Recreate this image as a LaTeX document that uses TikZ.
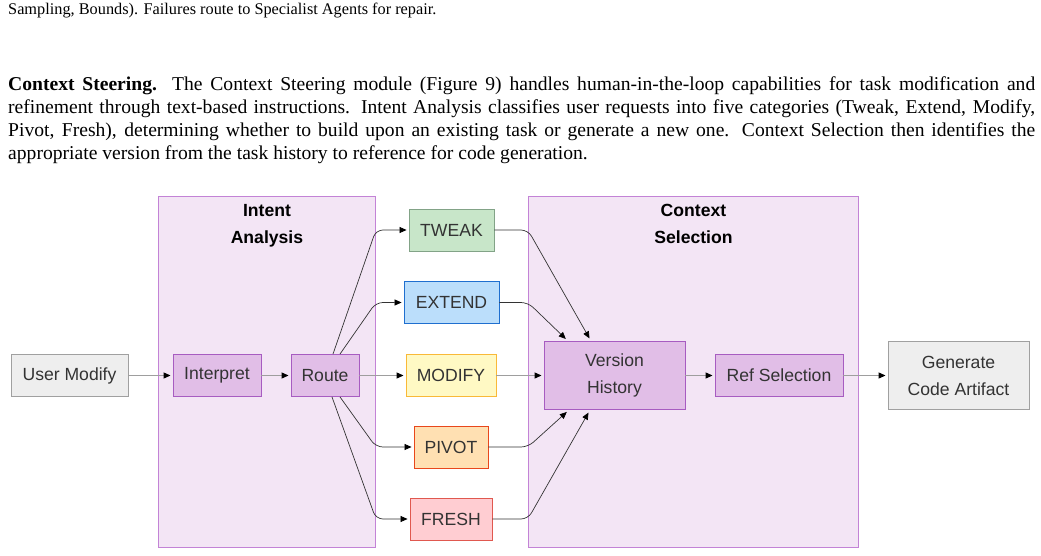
\documentclass[tikz,border=0pt]{standalone}
\usepackage{fontspec}
\setmainfont{Liberation Serif}
\setsansfont{Liberation Sans}
\usepackage{xcolor}
\usetikzlibrary{positioning,arrows.meta,calc}
\definecolor{grpbg}{HTML}{F3E5F5}
\definecolor{grpline}{HTML}{C383D6}
\definecolor{stagebg}{HTML}{E1BEE7}
\definecolor{stageline}{HTML}{A75CC1}
\definecolor{iobg}{HTML}{EEEEEE}
\definecolor{ioline}{HTML}{A0A0A0}
\definecolor{tweakbg}{HTML}{C8E6C9}
\definecolor{tweakline}{HTML}{82A387}
\definecolor{extendbg}{HTML}{BBDEFB}
\definecolor{extendline}{HTML}{1F6FCF}
\definecolor{modifybg}{HTML}{FFF9C4}
\definecolor{modifyline}{HTML}{F9B938}
\definecolor{pivotbg}{HTML}{FFE0B2}
\definecolor{pivotline}{HTML}{E8471C}
\definecolor{freshbg}{HTML}{FFCDD2}
\definecolor{freshline}{HTML}{E0584F}
\definecolor{txt}{HTML}{333333}
\definecolor{wire}{HTML}{9E9E9E}
\newcommand{\capfont}{\fontsize{16.3}{19.6}\selectfont}
\newcommand{\paperfont}{\fontsize{19.6}{23.3}\selectfont}
\newcommand{\boxfont}{\sffamily\fontsize{17.6}{27}\selectfont}
\tikzset{
  blk/.style={draw,line width=0.9pt,font=\boxfont,text=txt,align=center,inner sep=0pt,minimum height=42pt},
  io/.style={blk,fill=iobg,draw=ioline},
  stage/.style={blk,fill=stagebg,draw=stageline},
  kind/.style={blk,fill=#1bg,draw=#1line},
  grp/.style={draw=grpline,fill=grpbg,line width=0.9pt,inner sep=0pt,anchor=north west},
  grptitle/.style={font=\sffamily\bfseries\fontsize{17.6}{26.7}\selectfont,align=center,anchor=north,inner sep=0pt},
  para/.style={anchor=base west,inner sep=0pt,font=\paperfont},
  ar/.style={-{Triangle[length=7pt,width=6pt,color=black]},wire,line width=1.1pt,shorten >=2pt},
  fan/.style={-{Triangle[length=7pt,width=6pt,color=black]},txt,line width=0.7pt,rounded corners=7pt,shorten >=3pt},
}

\begin{document}
\begin{tikzpicture}[x=1pt,y=-1pt]
  \path[use as bounding box,fill=white] (0,0) rectangle (1041,556);

  % running text of the page
  \node[para,font=\capfont] (prevline) at (8,15) {Sampling, Bounds). Failures route to Specialist Agents for repair.};
  \node[para] (parai) at (8,91) {\makebox[1027pt][s]{\textbf{Context Steering.} The Context Steering module (Figure 9) handles human-in-the-loop capabilities for task modification and}};
  \node[para] (paraii) at (8,114) {\makebox[1027pt][s]{refinement through text-based instructions. Intent Analysis classifies user requests into five categories (Tweak, Extend, Modify,}};
  \node[para] (paraiii) at (8,137) {\makebox[1027pt][s]{Pivot, Fresh), determining whether to build upon an existing task or generate a new one. Context Selection then identifies the}};
  \node[para] (paraiv) at (8,160) {appropriate version from the task history to reference for code generation.};

  % groups
  \node[grp,minimum width=217pt,minimum height=351pt] (intent) at (158,196) {};
  \node[grptitle] (intenthead) at ([yshift=-8pt]intent.north) {Intent\\Analysis};
  \node[grp,minimum width=330pt,minimum height=351pt] (context) at (528,196) {};
  \node[grptitle] (contexthead) at ([yshift=-8pt]context.north) {Context\\Selection};

  % main row
  \node[io,minimum width=117pt] (usermod) at (69.5,375.5) {User Modify};
  \node[stage,minimum width=88pt] (interp) at (217,375.5) {Interpret};
  \node[stage,minimum width=68pt] (route) at (325,375.5) {Route};
  \node[stage,minimum width=141pt,minimum height=68pt] (history) at (614.5,375.5) {Version\\History};
  \node[stage,minimum width=128pt] (refsel) at (779,375.5) {Ref Selection};
  \node[io,minimum width=141pt,minimum height=68pt] (gencode) at (958.5,375.5) {Generate\\Code Artifact};

  % intent kinds
  \node[kind=tweak,minimum width=85pt] (tweak) at (451.5,230) {TWEAK};
  \node[kind=extend,minimum width=95pt] (extend) at (451.5,302.5) {EXTEND};
  \node[kind=modify,minimum width=90pt] (modify) at (451,375.5) {MODIFY};
  \node[kind=pivot,minimum width=74pt] (pivot) at (451,447) {PIVOT};
  \node[kind=fresh,minimum width=82pt] (fresh) at (451,519) {FRESH};

  \draw[ar] (usermod) -- (interp);
  \draw[ar] (interp) -- (route);
  \draw[ar] (route) -- (modify);
  \draw[ar] (modify) -- (history);
  \draw[ar] (history) -- (refsel);
  \draw[ar] (refsel) -- (gencode);

  % fan out of Route
  \draw[fan,shorten >=2pt] ([xshift=8pt]route.north) -- (intent.east |- tweak) -- (tweak);
  \draw[fan,shorten >=2pt] ([xshift=15pt]route.north) -- (intent.east |- extend) -- (extend);
  \draw[fan,shorten >=2pt] ([xshift=15pt]route.south) -- (intent.east |- pivot) -- (pivot);
  \draw[fan,shorten >=2pt] ([xshift=7pt]route.south) -- (intent.east |- fresh) -- (fresh);

  % fan in to Version History
  \draw[fan] (tweak) -- (context.west |- tweak) -- ([xshift=-23.5pt]history.north);
  \draw[fan] (extend) -- (context.west |- extend) -- ([xshift=-46.5pt]history.north);
  \draw[fan] (pivot) -- (context.west |- pivot) -- ([xshift=-45.5pt]history.south);
  \draw[fan] (fresh) -- (context.west |- fresh) -- ([xshift=-24.5pt]history.south);
\end{tikzpicture}
\end{document}
